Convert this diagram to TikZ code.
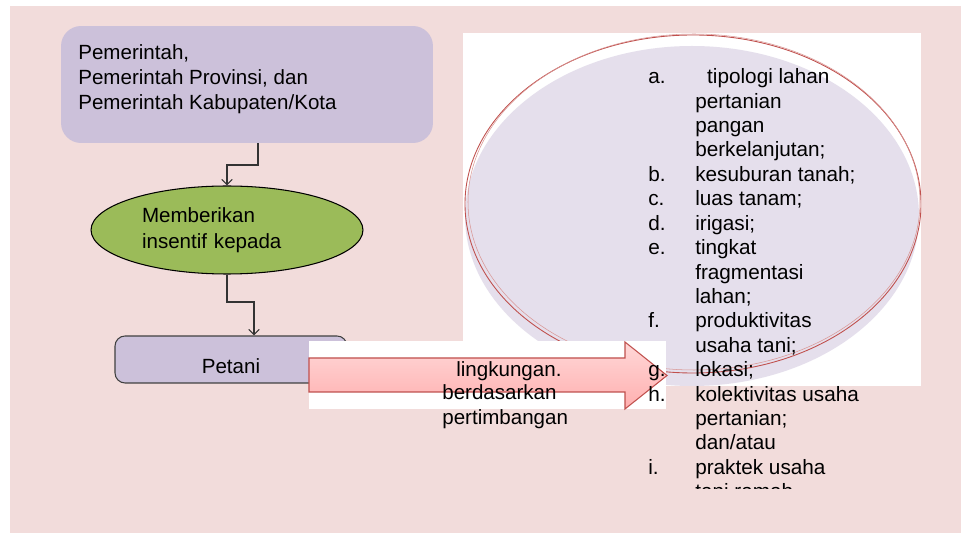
\documentclass[tikz,border=0pt]{standalone}
\usepackage{fontspec}
\setmainfont{Liberation Sans}
\usetikzlibrary{arrows.meta,shapes.geometric}
\definecolor{bgpink}{HTML}{F2DCDB}
\definecolor{boxlav}{HTML}{CCC1DA}
\definecolor{ovalgreen}{HTML}{9BBB59}
\definecolor{ovallav}{HTML}{E5DFEC}
\definecolor{ovalred}{HTML}{C0504D}
\definecolor{arrowtop}{HTML}{FFD8D8}
\definecolor{arrowbot}{HTML}{FFAFAF}
\newcommand{\butir}[1]{\makebox[26.7pt][l]{#1}}

\begin{document}
\begin{tikzpicture}[x=0.02cm,y=-0.02cm,
		every node/.style={font=\fontsize{11.7pt}{14.2pt}\selectfont},
		conn/.style={draw=black!80,line width=0.6pt,-{Straight Barb[length=3pt,width=6pt]}},
		govbox/.style={fill=boxlav,rounded corners=0.4cm,minimum width=7.44cm,minimum height=2.34cm},
		oval/.style={ellipse,draw=black,line width=0.6pt,fill=ovalgreen,minimum width=5.44cm,minimum height=1.76cm,
			text width=3.4cm,align=left,font=\fontsize{11.7pt}{14.6pt}\selectfont},
		petanibox/.style={draw=black!75,line width=0.6pt,fill=boxlav,rounded corners=0.2cm,
			minimum width=4.64cm,minimum height=0.94cm,text height=16.5pt,text depth=0pt}]
		\useasboundingbox (0,0) rectangle (961,533);
		\fill[white] (0,0) rectangle (961,533);
		\fill[bgpink] (10,6) rectangle (961,533);

		% kiri
		\node[govbox] (gov) at (247,84.5) {};
		\node[anchor=north west,align=left,inner sep=0pt] (govtext) at (78,44.5)
			{Pemerintah,\\Pemerintah Provinsi, dan\\Pemerintah Kabupaten/Kota};
		\node[oval] (insentif) at (227,230) {Memberikan\\insentif kepada};
		\node[petanibox] (petani) at (231,359.5) {Petani};

		\coordinate (b1) at (258,165);
		\coordinate (b2) at (227,165);
		\draw[conn] (gov.south -| b1) -- (b1) -- (b2) -- (insentif.north);
		\coordinate (b3) at (227,302);
		\coordinate (b4) at (254,302);
		\draw[conn] (insentif.south) -- (b3) -- (b4) -- (petani.north -| b4);

		% oval kanan
		\begin{scope}
			\fill[white] (463,33) rectangle (921,386);
			\clip (463,33) rectangle (921,386);
			\fill[ovallav] (692,216) ellipse [x radius=227, y radius=170];
			\draw[ovalred,line width=0.5pt] (693,204) ellipse [x radius=228, y radius=169];
			\draw[ovalred!60,line width=0.3pt] (694,202) ellipse [x radius=226, y radius=168];
		\end{scope}

		% panah
		\fill[white] (309,341) rectangle (666,409);
		\shade[top color=arrowtop,bottom color=arrowbot,draw=ovalred,line width=0.6pt]
			(309,358) -- (625,358) -- (625,342) -- (667,375.5) -- (625,409) -- (625,392) -- (309,392) -- cycle;
		\node[anchor=base west,inner sep=0pt] (lingk) at (456,376.7) {lingkungan.};
		\node[anchor=north west,align=left,inner sep=0pt,font=\fontsize{11.7pt}{14.4pt}\selectfont] (dasar) at (442,384.2)
			{berdasarkan\\pertimbangan};

		% daftar
		\begin{scope}
			\clip (600,0) rectangle (961,489);
			\node[anchor=north west,align=left,inner sep=0pt,font=\fontsize{11.8pt}{13.9pt}\selectfont] (daftar) at (648,68.3)
				{\butir{a.}\hspace{6.8pt}tipologi lahan\\
				\butir{}pertanian\\
				\butir{}pangan\\
				\butir{}berkelanjutan;\\
				\butir{b.}kesuburan tanah;\\
				\butir{c.}luas tanam;\\
				\butir{d.}irigasi;\\
				\butir{e.}tingkat\\
				\butir{}fragmentasi\\
				\butir{}lahan;\\
				\butir{f.}produktivitas\\
				\butir{}usaha tani;\\
				\butir{g.}lokasi;\\
				\butir{h.}kolektivitas usaha\\
				\butir{}pertanian;\\
				\butir{}dan/atau\\
				\butir{i.}praktek usaha\\
				\butir{}tani ramah};
		\end{scope}
\end{tikzpicture}
\end{document}
